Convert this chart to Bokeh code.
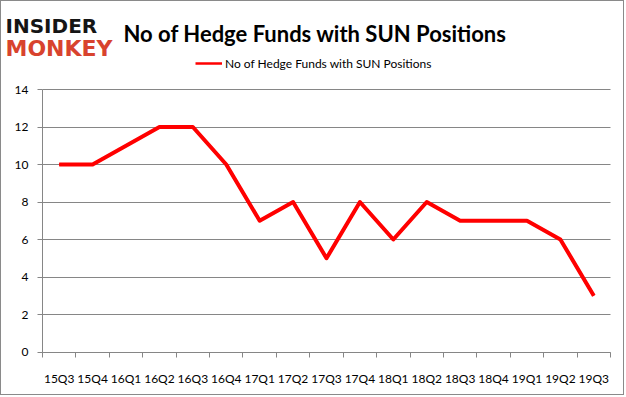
from bokeh.plotting import figure
from bokeh.models import Range1d, FixedTicker, Label, Legend, LegendItem
from bokeh.embed import file_html
from bokeh.resources import INLINE

quarters = ["15Q3", "15Q4", "16Q1", "16Q2", "16Q3", "16Q4", "17Q1", "17Q2", "17Q3",
            "17Q4", "18Q1", "18Q2", "18Q3", "18Q4", "19Q1", "19Q2", "19Q3"]
funds = [10, 10, 11, 12, 12, 10, 7, 8, 5, 8, 6, 8, 7, 7, 7, 6, 3]
y_ticks = [0, 2, 4, 6, 8, 10, 12, 14]
series_name = "No of Hedge Funds with SUN Positions"
title_text = "No of Hedge Funds with SUN Positions"

n = len(quarters)
centers = [i + 0.5 for i in range(n)]
bounds = list(range(n + 1))

GRID = "#868686"
FONT = "Lato"
W, H = 624, 395

# the frame fills the whole canvas; the ranges are widened so that the
# chart area (0..17, 0..14) lands where the reference draws it
x_px = (41, 609)      # canvas x of data x = 0 and x = n
y_px = (350.5, 88)    # canvas y (from top) of data y = 0 and y = 14
sx = (x_px[1] - x_px[0]) / n
sy = (y_px[0] - y_px[1]) / 14
x_range = Range1d(-x_px[0] / sx, n + (W - x_px[1]) / sx)
y_range = Range1d(-(H - y_px[0]) / sy, 14 + y_px[1] / sy)

p = figure(width=W, height=H, output_backend="svg", toolbar_location=None,
           x_range=x_range, y_range=y_range,
           min_border=0, min_border_left=0, min_border_right=0,
           min_border_top=0, min_border_bottom=0)
p.outline_line_color = None
p.background_fill_color = "white"
p.border_fill_color = "white"
p.styles = {"border": "1px solid #8a8a8a"}

# grid lines limited to the chart area
p.xgrid.grid_line_color = None
p.ygrid.ticker = FixedTicker(ticks=y_ticks)
p.ygrid.grid_line_color = GRID
if "cross_bounds" in p.ygrid[0].properties():
    p.ygrid.cross_bounds = (0, n)
else:
    p.ygrid.grid_line_color = None
    p.segment(x0=[0] * len(y_ticks), y0=y_ticks, x1=[n] * len(y_ticks), y1=y_ticks,
              line_color=GRID, line_width=1)

# thinner twin (hidden under the main line) used only for the legend swatch
r_leg = p.line(centers, funds, line_color="#ff0000", line_width=2.5)
r = p.line(centers, funds, line_color="#ff0000", line_width=4, line_join="round")

# x axis: labels at centers, ticks at category boundaries
p.xaxis.fixed_location = 0
p.xaxis.bounds = (0, n)
p.xaxis.ticker = FixedTicker(ticks=centers, minor_ticks=bounds)
p.xaxis.major_label_overrides = {c: q for c, q in zip(centers, quarters)}
p.xaxis.major_tick_line_color = None
p.xaxis.major_tick_out = 0
p.xaxis.major_tick_in = 0
p.xaxis.minor_tick_line_color = GRID
p.xaxis.minor_tick_out = 5
p.xaxis.minor_tick_in = 0
p.xaxis.axis_line_color = GRID
p.xaxis.major_label_standoff = 14
p.xaxis.major_label_text_font = FONT
p.xaxis.major_label_text_font_size = "12px"
p.xaxis.major_label_text_color = "black"

p.yaxis.fixed_location = 0
p.yaxis.bounds = (0, 14)
p.yaxis.ticker = FixedTicker(ticks=y_ticks)
p.yaxis.axis_line_color = GRID
p.yaxis.major_tick_line_color = GRID
p.yaxis.major_tick_out = 5
p.yaxis.major_tick_in = 0
p.yaxis.minor_tick_line_color = None
p.yaxis.major_label_standoff = 9
p.yaxis.major_label_text_font = FONT
p.yaxis.major_label_text_font_size = "12px"
p.yaxis.major_label_text_color = "black"

legend = Legend(items=[LegendItem(label=series_name, renderers=[r_leg])],
                location=(194, 323), orientation="horizontal",
                padding=0, margin=0, border_line_color=None, background_fill_alpha=0,
                glyph_width=27, label_standoff=3,
                label_text_font=FONT, label_text_font_size="12px", label_text_color="black")
p.add_layout(legend, "center")

p.add_layout(Label(x=122, y=H - 32, x_units="screen", y_units="screen", text=title_text,
                   text_align="left", text_baseline="alphabetic", text_font=FONT,
                   text_font_style="bold", text_font_size="22px", text_color="black"))

p.add_layout(Label(x=4, y=H - 24, x_units="screen", y_units="screen", text="INSIDER",
                   text_align="left", text_baseline="alphabetic", text_font="DejaVu Sans",
                   text_font_style="bold", text_font_size="20px", text_color="#151515"))
p.add_layout(Label(x=4, y=H - 47, x_units="screen", y_units="screen", text="MONKEY",
                   text_align="left", text_baseline="alphabetic", text_font="DejaVu Sans",
                   text_font_style="bold", text_font_size="22px", text_color="#d8432e"))

open("out.html", "w").write(file_html(p, INLINE))
